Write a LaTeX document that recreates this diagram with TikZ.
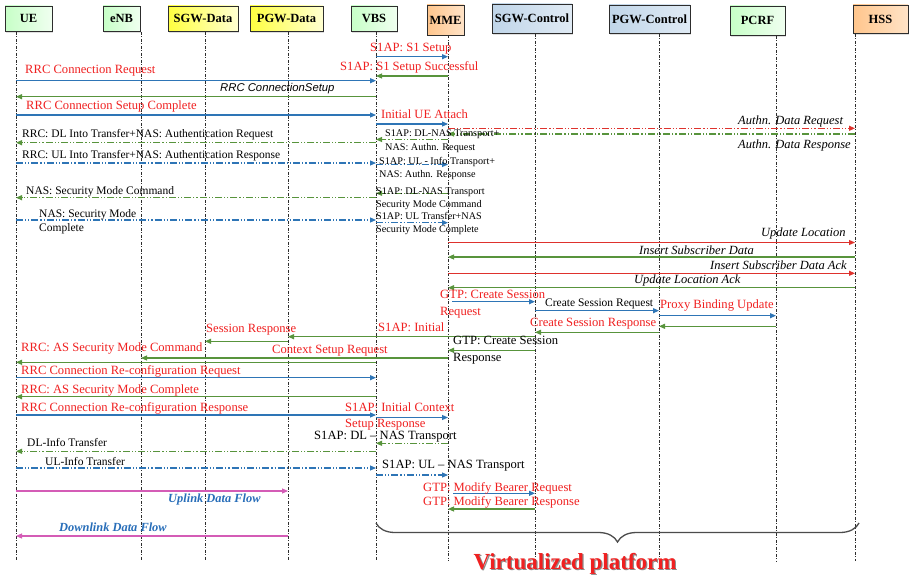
\documentclass[tikz,border=0pt]{standalone}
\usepackage{fontspec}
\setmainfont{Liberation Serif}
\newfontfamily\sansfam{Liberation Sans}
\usetikzlibrary{arrows.meta,decorations.pathreplacing,shadows}

\definecolor{cblue}{RGB}{46,117,182}
\definecolor{cgreen}{RGB}{88,148,60}
\definecolor{cred}{RGB}{222,50,45}
\definecolor{ctext}{RGB}{240,32,32}
\definecolor{cmag}{RGB}{212,92,182}
\definecolor{cline}{RGB}{45,45,45}
\definecolor{cflow}{RGB}{40,110,185}

% one message between two lifelines at height #4
\newcommand\sqmsg[4][]{\draw[msgline,#1] (#2 |- 0,#4) -- (#3 |- 0,#4);}

\begin{document}
\begin{tikzpicture}[x=1pt,y=-1pt,
  >={Triangle[length=6pt,width=5pt]},
  hdr/.style={draw=cline, line width=0.8pt, inner sep=0pt,
    font=\bfseries\fontsize{12.5}{14}\selectfont,
    drop shadow={shadow xshift=1.2pt, shadow yshift=-1.2pt, opacity=0.25}},
  greenbox/.style={hdr, left color=green!22!white, right color=green!6!white},
  yellowbox/.style={hdr, left color=yellow!75!white, right color=yellow!18!white},
  orangebox/.style={hdr, left color=orange!45!white, right color=orange!22!white},
  bluebox/.style={hdr, left color=cblue!30!white, right color=cblue!15!white},
  lifeline/.style={cline, line width=0.8pt, dash pattern=on 3pt off 1.5pt on 1pt off 1.5pt},
  msgline/.style={->, line width=1.1pt},
  bl/.style={draw=cblue}, gr/.style={draw=cgreen}, rd/.style={draw=cred}, mg/.style={draw=cmag},
  dd/.style={dash pattern=on 7pt off 2pt on 1.2pt off 2pt on 1.2pt off 2pt},
  lbl/.style={anchor=west, inner sep=0pt, text height=0.72em, text depth=0.16em},
  rt/.style={lbl, text=ctext, font=\fontsize{12.6}{14}\selectfont},
  bb/.style={lbl, font=\fontsize{12.6}{14}\selectfont},
  bt/.style={lbl, font=\fontsize{11.5}{13}\selectfont},
  st/.style={lbl, font=\fontsize{10.2}{12}\selectfont},
  it/.style={lbl, font=\itshape\fontsize{12.5}{14}\selectfont},
  flow/.style={lbl, text=cflow, font=\bfseries\itshape\fontsize{12.4}{14}\selectfont}]

\useasboundingbox (0,0) rectangle (909,578);
\fill[white] (0,0) rectangle (909,578);

% participants
\node[greenbox,  minimum width=47pt, minimum height=25.5pt] (ue)   at (28.5,18.75) {UE};
\node[greenbox,  minimum width=37pt, minimum height=25.5pt] (enb)  at (121.5,18.75) {eNB};
\node[yellowbox, minimum width=70pt, minimum height=25.5pt] (sgwd) at (203,18.75) {SGW-Data};
\node[yellowbox, minimum width=73pt, minimum height=25.5pt] (pgwd) at (286.5,18.75) {PGW-Data};
\node[greenbox,  minimum width=46pt, minimum height=25.5pt] (vbs)  at (374,18.75) {VBS};
\node[orangebox, minimum width=37pt, minimum height=30pt]   (mme)  at (445.5,20) {MME};
\node[bluebox,   minimum width=80pt, minimum height=29.5pt] (sgwc) at (532,18.75) {SGW-Control};
\node[bluebox,   minimum width=81pt, minimum height=28.5pt] (pgwc) at (649.5,19.25) {PGW-Control};
\node[greenbox,  minimum width=55pt, minimum height=29.5pt] (pcrf) at (757.5,20.75) {PCRF};
\node[orangebox, minimum width=55pt, minimum height=28.5pt] (hss)  at (880.5,19.25) {HSS};

% lifeline abscissae
\coordinate (lue)   at (16,0);
\coordinate (lenb)  at (141,0);
\coordinate (lsgwd) at (205,0);
\coordinate (lpgwd) at (288,0);
\coordinate (lvbs)  at (376,0);
\coordinate (lmme)  at (448,0);
\coordinate (lsgwc) at (535,0);
\coordinate (lpgwc) at (659,0);
\coordinate (lpcrf) at (776,0);
\coordinate (lhss)  at (855,0);

\foreach \n/\l in {ue/lue, enb/lenb, sgwd/lsgwd, pgwd/lpgwd, vbs/lvbs, mme/lmme,
                   sgwc/lsgwc, pgwc/lpgwc, pcrf/lpcrf, hss/lhss}
  \draw[lifeline] (\n.south -| \l) -- (\l |- 0,561);

% S1 setup
\sqmsg[bl]{lvbs}{lmme}{56.7}
\node[rt] (t01) at (370,49) {S1AP: S1 Setup};
\sqmsg[gr]{lmme}{lvbs}{76}
\node[rt] (t02) at (340,67.7) {S1AP: S1 Setup Successful};

% RRC connection
\sqmsg[bl]{lue}{lvbs}{80.7}
\node[rt] (t03) at (25,71) {RRC Connection Request};
\sqmsg[gr]{lvbs}{lue}{96.7}
\node[lbl, font=\sansfam\itshape\fontsize{11.3}{13}\selectfont] (t04) at (220,89) {RRC ConnectionSetup};
\sqmsg[bl]{lue}{lvbs}{115}
\node[rt] (t05) at (26,107) {RRC Connection Setup Complete};
\sqmsg[bl]{lvbs}{lmme}{124}
\node[rt] (t06) at (381,116) {Initial UE Attach};

% authentication
\sqmsg[rd,dd]{lmme}{lhss}{128.3}
\node[it] (t07) at (738,121.7) {Authn. Data Request};
\sqmsg[gr,dd]{lhss}{lmme}{134}
\node[it] (t08) at (738,146) {Authn. Data Response};
\sqmsg[gr,dd]{lmme}{lvbs}{139.5}
\node[st] (t09) at (385,134) {S1AP: DL-NAS Transport+};
\node[st] (t10) at (385,147.3) {NAS: Authn. Request};
\sqmsg[gr,dd]{lvbs}{lue}{142.7}
\node[bt] (t11) at (22,135) {RRC: DL Into Transfer+NAS: Authentication Request};
\sqmsg[bl,dd]{lue}{lvbs}{163}
\node[bt] (t12) at (22,156) {RRC: UL Into Transfer+NAS: Authentication Response};
\sqmsg[bl,dd]{lvbs}{lmme}{164.5}
\node[st] (t13) at (379,161.7) {S1AP: UL - Info Transport+};
\node[st] (t14) at (379,174.5) {NAS: Authn. Response};

% NAS security mode
\sqmsg[gr,dd]{lvbs}{lue}{197.7}
\node[bt] (t15) at (26,191.7) {NAS: Security Mode Command};
\sqmsg[gr,dd]{lmme}{lvbs}{193.3}
\node[st] (t16) at (376,191.7) {S1AP: DL-NAS Transport};
\node[st] (t17) at (376,205) {Security Mode Command};
\sqmsg[bl,dd]{lue}{lvbs}{220}
\node[bt] (t18) at (39,215) {NAS: Security Mode};
\node[bt] (t19) at (39,229) {Complete};
\sqmsg[bl,dd]{lvbs}{lmme}{222.7}
\node[st] (t20) at (376,216.7) {S1AP: UL Transfer+NAS};
\node[st] (t21) at (376,229.3) {Security Mode Complete};

% location update with HSS
\sqmsg[rd]{lmme}{lhss}{242.5}
\node[it] (t22) at (761,234) {Update Location};
\sqmsg[gr]{lhss}{lmme}{257}
\node[it] (t23) at (639,251.5) {Insert Subscriber Data};
\sqmsg[rd]{lmme}{lhss}{273.3}
\node[it] (t24) at (710,266.5) {Insert Subscriber Data Ack};
\sqmsg[gr]{lhss}{lmme}{287.7}
\node[it] (t25) at (634,280.7) {Update Location Ack};

% session creation
\sqmsg[bl, shorten <=4pt]{lmme}{lsgwc}{301.7}
\node[rt] (t26) at (440,295.7) {GTP: Create Session};
\node[rt] (t27) at (440,312.3) {Request};
\sqmsg[bl]{lsgwc}{lpgwc}{310.7}
\node[bt] (t28) at (545,304) {Create Session Request};
\sqmsg[bl]{lpgwc}{lpcrf}{315.7}
\node[rt] (t29) at (660,306) {Proxy Binding Update};
\sqmsg[gr]{lpcrf}{lpgwc}{326.3}
\sqmsg[gr]{lpgwc}{lsgwc}{332.3}
\node[rt] (t30) at (530,323.5) {Create Session Response};
\sqmsg[gr]{lsgwc}{lpgwd}{336.7}
\node[rt] (t31) at (378,328.3) {S1AP: Initial};
\sqmsg[gr]{lpgwd}{lsgwd}{341.3}
\node[rt] (t32) at (206,329.5) {Session Response};
\sqmsg[gr]{lsgwc}{lmme}{350.3}
\node[bb] (t33) at (453,341.7) {GTP: Create Session};
\node[bb] (t34) at (453,358.3) {Response};
\sqmsg[gr]{lmme}{lenb}{358}
\node[rt] (t35) at (272,351) {Context Setup Request};
\sqmsg[gr]{lvbs}{lue}{362.3}
\node[rt] (t36) at (21,348.3) {RRC: AS Security Mode Command};

% radio bearer reconfiguration
\sqmsg[bl]{lue}{lvbs}{377.7}
\node[rt] (t37) at (21,371.7) {RRC Connection Re-configuration Request};
\sqmsg[gr]{lvbs}{lue}{396.7}
\node[rt] (t38) at (21,390.7) {RRC: AS Security Mode Complete};
\sqmsg[bl]{lue}{lvbs}{415}
\node[rt] (t39) at (21,409) {RRC Connection Re-configuration Response};
\sqmsg[bl]{lvbs}{lmme}{417.5}
\node[rt] (t40) at (345,408.5) {S1AP: Initial Context};
\node[rt] (t41) at (345,424.8) {Setup Response};

% NAS transport
\sqmsg[gr,dd]{lmme}{lvbs}{443.3}
\node[bb] (t42) at (314,437) {S1AP: DL -- NAS Transport};
\sqmsg[gr,dd]{lvbs}{lue}{451.3}
\node[bt] (t43) at (27,444) {DL-Info Transfer};
\sqmsg[bl,dd]{lue}{lvbs}{468}
\node[bt] (t44) at (45,463) {UL-Info Transfer};
\sqmsg[bl,dd]{lvbs}{lmme}{475}
\node[bb] (t45) at (382,466) {S1AP: UL -- NAS Transport};

% bearer modification and user-plane data
\sqmsg[mg]{lue}{lpgwd}{491}
\node[flow] (t46) at (168,500) {Uplink Data Flow};
\sqmsg[bl, shorten <=5pt]{lmme}{lsgwc}{493.3}
\node[rt] (t47) at (423,488.3) {GTP: Modify Bearer Request};
\sqmsg[gr]{lsgwc}{lmme}{509}
\node[rt] (t48) at (423,502.3) {GTP: Modify Bearer Response};
\sqmsg[mg]{lpgwd}{lue}{536}
\node[flow] (t49) at (59,529) {Downlink Data Flow};

% virtualized platform brace
\draw[cline!85, line width=1.3pt, decorate,
      decoration={brace, amplitude=19pt, mirror}] (lvbs |- 0,523) -- (859,523);
\node[anchor=base, text=black!45, font=\bfseries\fontsize{23}{26}\selectfont]
  (vpshadow) at (576.2,570.2) {Virtualized platform};
\node[anchor=base, text=ctext, font=\bfseries\fontsize{23}{26}\selectfont]
  (vp) at (575,569) {Virtualized platform};
\end{tikzpicture}
\end{document}
